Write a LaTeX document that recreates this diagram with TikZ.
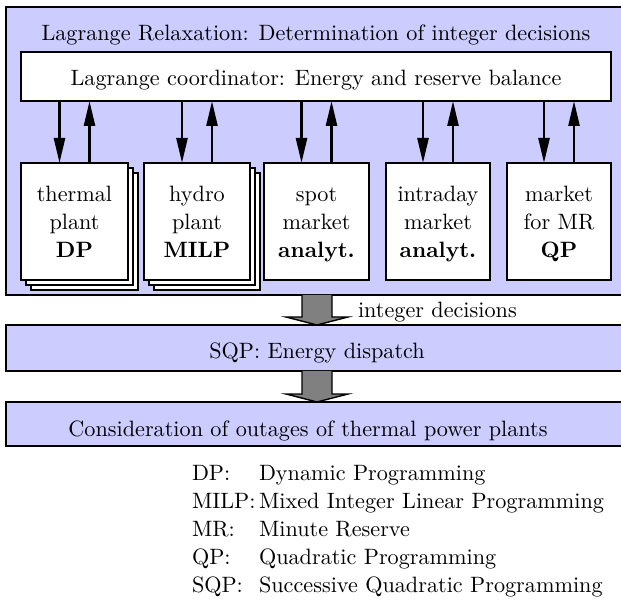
\documentclass[tikz,border=0pt]{standalone}
\usepackage{fontspec}
\setmainfont{lmroman10}[Extension=.otf, UprightFont=*-regular, BoldFont=*-bold,
  ItalicFont=*-italic, BoldItalicFont=*-bolditalic]
\usetikzlibrary{arrows.meta}
\definecolor{panel}{HTML}{CCCCFF}
\definecolor{fatgray}{HTML}{808080}
\begin{document}
\begin{tikzpicture}[x=1pt,y=-1pt,
  font=\fontsize{22.2}{28}\selectfont,
  every node/.style={outer sep=0pt, inner sep=0pt},
  bigbox/.style={draw, line width=1.6pt, fill=panel, rectangle, minimum width=622pt},
  whitebox/.style={draw, line width=1.6pt, fill=white, rectangle},
  modbox/.style={whitebox, minimum height=117pt, align=center},
  shadowbox/.style={draw, line width=1.4pt, fill=white, rectangle, minimum height=117pt},
  link/.style={line width=2.5pt, -{Triangle[length=25pt,width=11pt]}},
  fat/.style={draw, line width=1.4pt, fill=fatgray, line join=miter},
  legend/.style={anchor=base west}]
\useasboundingbox (0,0) rectangle (621,601);
\clip (0,0) rectangle (621,601);
\fill[white] (0,0) rectangle (621,601);

% Lagrange relaxation panel
\node[bigbox, minimum height=288pt] (outer) at (317,151) {};
\node[anchor=base] (title) at (316,41) {Lagrange Relaxation: Determination of integer decisions};
\node[whitebox, minimum width=590pt, minimum height=49pt, text height=21pt, text depth=2pt]
  (coord) at (316,76.5) {Lagrange coordinator: Energy and reserve balance};

% stacked subproblems (several units)
\node[shadowbox, minimum width=107pt] (thermal-s2) at (84.5,231.5) {};
\node[shadowbox, minimum width=107pt] (thermal-s1) at (79.5,226.5) {};
\node[shadowbox, minimum width=106pt] (hydro-s2) at (207,231.5) {};
\node[shadowbox, minimum width=106pt] (hydro-s1) at (202,226.5) {};

% subproblems
\node[modbox, minimum width=107pt] (thermal) at (74.5,221.5)
  {\rule{0pt}{23pt}thermal\\plant\\\textbf{DP}\rule[-6pt]{0pt}{6pt}};
\node[modbox, minimum width=106pt] (hydro) at (197,221.5)
  {\rule{0pt}{23pt}hydro\\plant\\\textbf{MILP}\rule[-6pt]{0pt}{6pt}};
\node[modbox, minimum width=105pt] (spot) at (316.5,221.5)
  {\rule{0pt}{23pt}spot\\market\\\textbf{analyt.}\rule[-6pt]{0pt}{6pt}};
\node[modbox, minimum width=104pt] (intraday) at (438,221.5)
  {\rule{0pt}{23pt}intraday\\market\\\textbf{analyt.}\rule[-6pt]{0pt}{6pt}};
\node[modbox, minimum width=104pt] (mr) at (559,221.5)
  {\rule{0pt}{23pt}market\\for MR\\\textbf{QP}\rule[-6pt]{0pt}{6pt}};

% coordinator <-> subproblem exchange
\foreach \m in {thermal,hydro,spot,intraday,mr}{
  \draw[link] ([xshift=-15pt]\m.north |- coord.south) -- ([xshift=-15pt]\m.north);
  \draw[link] ([xshift=15pt]\m.north) -- ([xshift=15pt]\m.north |- coord.south);
}

% lower stages
\node[bigbox, minimum height=46pt, text height=24pt, text depth=2pt]
  (sqp) at (317,348) {SQP: Energy dispatch};
\node[bigbox, minimum height=44pt, text height=26pt, text depth=2pt]
  (outage) at (317,424) {\hspace*{-18pt}Consideration of outages of thermal power plants};

% block arrows between stages
\draw[fat] ([xshift=-15pt]outer.south) -- ([xshift=-15pt,yshift=8pt]sqp.north)
  -- ([xshift=-31pt,yshift=8pt]sqp.north) -- (sqp.north)
  -- ([xshift=31pt,yshift=8pt]sqp.north) -- ([xshift=15pt,yshift=8pt]sqp.north)
  -- ([xshift=15pt]outer.south);
\draw[fat] ([xshift=-15pt]sqp.south) -- ([xshift=-15pt,yshift=8pt]outage.north)
  -- ([xshift=-31pt,yshift=8pt]outage.north) -- (outage.north)
  -- ([xshift=31pt,yshift=8pt]outage.north) -- ([xshift=15pt,yshift=8pt]outage.north)
  -- ([xshift=15pt]sqp.south);
\node[anchor=base west] (intdec) at (358,318) {integer decisions};

% abbreviations
\node[legend] (ab1) at (192,480) {DP:};
\node[legend] (df1) at (259,480) {Dynamic Programming};
\node[legend] (ab2) at (192,508) {MILP:};
\node[legend] (df2) at (259,508) {Mixed Integer Linear Programming};
\node[legend] (ab3) at (192,536) {MR:};
\node[legend] (df3) at (259,536) {Minute Reserve};
\node[legend] (ab4) at (192,564) {QP:};
\node[legend] (df4) at (259,564) {Quadratic Programming};
\node[legend] (ab5) at (192,592) {SQP:};
\node[legend] (df5) at (259,592) {Successive Quadratic Programming};
\end{tikzpicture}
\end{document}
